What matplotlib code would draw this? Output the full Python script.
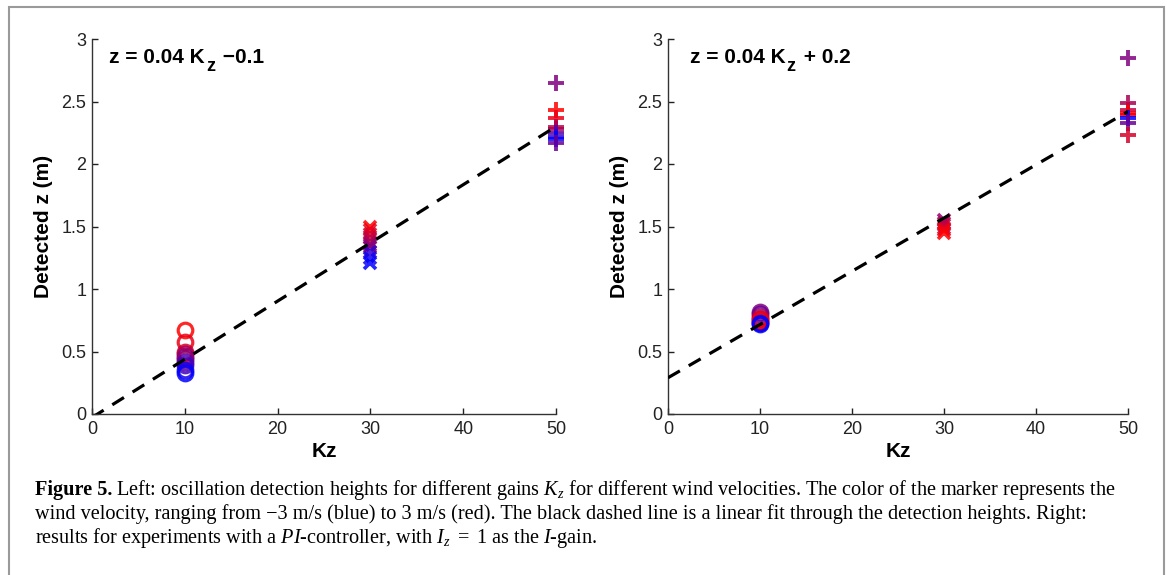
import matplotlib
matplotlib.use("Agg")
import matplotlib.pyplot as plt
import matplotlib.patches as mpatches
from matplotlib.transforms import offset_copy

plt.rcParams['font.family'] = ['Liberation Sans', 'DejaVu Sans']
plt.rcParams['mathtext.fontset'] = 'custom'
plt.rcParams['mathtext.rm'] = 'Liberation Serif'
plt.rcParams['mathtext.it'] = 'Liberation Serif:italic'
plt.rcParams['mathtext.bf'] = 'Liberation Serif:bold'

# ---------------- data ----------------
kz_levels = [10, 30, 50]

# left panel (P-controller)
left_k10_z = [0.67, 0.58, 0.50, 0.48, 0.46, 0.44, 0.42, 0.39, 0.35, 0.33]
left_k10_v = [3.0, 2.5, 2.0, 1.0, 0.0, 0.5, -1.0, -1.5, -2.5, -3.0]
left_k30_z = [1.50, 1.47, 1.44, 1.41, 1.38, 1.35, 1.34, 1.30, 1.25, 1.21]
left_k30_v = [3.0, 2.5, 2.0, 1.5, 1.0, 0.5, 0.0, -2.0, -2.5, -3.0]
left_k50_z = [2.65, 2.43, 2.37, 2.30, 2.28, 2.25, 2.22, 2.20, 2.17]
left_k50_v = [0.0, 3.0, 2.5, 1.5, 1.0, -1.0, -2.0, -3.0, -0.5]
left_fit_x = [0, 50]
left_fit_y = [-0.028, 2.30]

# right panel (PI-controller)
right_k10_z = [0.82, 0.80, 0.78, 0.76, 0.75, 0.74, 0.73, 0.72]
right_k10_v = [0.0, -0.5, 1.0, 2.0, 2.5, 3.0, -2.0, -3.0]
right_k30_z = [1.55, 1.53, 1.51, 1.49, 1.47, 1.45]
right_k30_v = [0.5, 1.0, 1.5, 2.0, 2.5, 3.0]
right_k50_z = [2.85, 2.49, 2.43, 2.41, 2.39, 2.37, 2.33, 2.23]
right_k50_v = [0.0, 1.0, 1.5, 3.0, 2.5, -3.0, -0.5, 2.0]
right_fit_x = [0, 50]
right_fit_y = [0.29, 2.42]

x_ticks = [0, 10, 20, 30, 40, 50]
y_ticks = [0, 0.5, 1, 1.5, 2, 2.5, 3]
y_ticklabels = ['0', '0.5', '1', '1.5', '2', '2.5', '3']

left_label = ("z = 0.04 K", "z", " \u22120.1")
right_label = ("z = 0.04 K", "z", " + 0.2")


def vel_color(v):
    t = (v + 3.0) / 6.0
    return (t, 0.0, 1.0 - t)


fig = plt.figure(figsize=(11.69, 5.75), dpi=100)
renderer = fig.canvas.get_renderer()

# outer frame
frame = mpatches.Rectangle((9 / 1169, -0.05), (1164 - 9) / 1169, 1.05 - 7 / 575,
                           transform=fig.transFigure, fill=False,
                           edgecolor='#9a9a9a', linewidth=1.5, zorder=0)
fig.patches.append(frame)

ax_l = fig.add_axes([92 / 1169, 1 - 414 / 575, 464 / 1169, 375 / 575])
ax_r = fig.add_axes([668 / 1169, 1 - 414 / 575, 460 / 1169, 375 / 575])


def draw_panel(ax, k10z, k10v, k30z, k30v, k50z, k50v, fx, fy, label, lx):
    ax.plot(fx, fy, linestyle=(0, (4.3, 3.2)), color='black', lw=2.3, zorder=5)
    for z, v in zip(k10z, k10v):
        ax.plot(kz_levels[0], z, marker='o', ms=10.5, mfc='none', mew=2.3,
                mec=vel_color(v), alpha=0.85, ls='none', zorder=3, clip_on=False)
    for z, v in zip(k30z, k30v):
        ax.plot(kz_levels[1], z, marker='x', ms=8, mew=2.6,
                mec=vel_color(v), alpha=0.85, ls='none', zorder=3, clip_on=False)
    for z, v in zip(k50z, k50v):
        ax.plot(kz_levels[2], z, marker='+', ms=11, mew=2.8,
                mec=vel_color(v), alpha=0.85, ls='none', zorder=3, clip_on=False)
    ax.set_xlim(0, 50)
    ax.set_ylim(0, 3)
    ax.set_xticks(x_ticks)
    ax.set_xticklabels([str(t) for t in x_ticks])
    ax.set_yticks(y_ticks)
    ax.set_yticklabels(y_ticklabels)
    ax.tick_params(direction='in', length=4, width=1, labelsize=13,
                   colors='#222222')
    ax.tick_params(axis='x', pad=5)
    ax.tick_params(axis='y', pad=4)
    for s in ['top', 'right']:
        ax.spines[s].set_visible(False)
    for s in ['left', 'bottom']:
        ax.spines[s].set_color('#333333')
        ax.spines[s].set_linewidth(1.0)
    ax.set_xlabel('Kz', fontsize=15, fontweight='bold', labelpad=3)
    ax.set_ylabel('Detected z (m)', fontsize=15, fontweight='bold', labelpad=6)
    # equation with manual subscript
    fs = 15
    t1 = ax.text(lx, 0.935, label[0], transform=ax.transAxes, fontsize=fs,
                 fontweight='bold', va='baseline', ha='left')
    w1 = t1.get_window_extent(renderer=renderer).width
    tr2 = offset_copy(ax.transAxes, fig=fig, x=w1 + 1, y=-8, units='dots')
    t2 = ax.text(lx, 0.935, label[1], transform=tr2, fontsize=fs - 2,
                 fontweight='bold', va='baseline', ha='left')
    w2 = t2.get_window_extent(renderer=renderer).width
    tr3 = offset_copy(ax.transAxes, fig=fig, x=w1 + w2 + 3, y=0, units='dots')
    ax.text(lx, 0.935, label[2], transform=tr3, fontsize=fs,
            fontweight='bold', va='baseline', ha='left')


draw_panel(ax_l, left_k10_z, left_k10_v, left_k30_z, left_k30_v,
           left_k50_z, left_k50_v, left_fit_x, left_fit_y, left_label, 0.037)
draw_panel(ax_r, right_k10_z, right_k10_v, right_k30_z, right_k30_v,
           right_k50_z, right_k50_v, right_fit_x, right_fit_y, right_label, 0.048)

# ---------------- caption ----------------
cap_fs = 14.6
cap_font = ['Liberation Serif', 'DejaVu Serif']
x0 = 35 / 1169
line_y = [1 - 495 / 575, 1 - 519 / 575, 1 - 543 / 575]

t_bold = fig.text(x0, line_y[0], "Figure 5.", fontsize=cap_fs, fontweight='bold',
                  family=cap_font, va='baseline', ha='left')
bb = t_bold.get_window_extent(renderer=renderer)
x1 = (bb.x1 + 4) / fig.bbox.width
fig.text(x1, line_y[0],
         r"Left: oscillation detection heights for different gains $K_z$ for different wind velocities. The color of the marker represents the",
         fontsize=cap_fs, family=cap_font, va='baseline', ha='left')
fig.text(x0, line_y[1],
         "wind velocity, ranging from \u22123 m/s (blue) to 3 m/s (red). The black dashed line is a linear fit through the detection heights. Right:",
         fontsize=cap_fs, family=cap_font, va='baseline', ha='left')
fig.text(x0, line_y[2],
         r"results for experiments with a $\mathit{PI}$-controller, with $I_z\ =\ 1$ as the $\mathit{I}$-gain.",
         fontsize=cap_fs, family=cap_font, va='baseline', ha='left')

fig.savefig('out.png', dpi=100)
